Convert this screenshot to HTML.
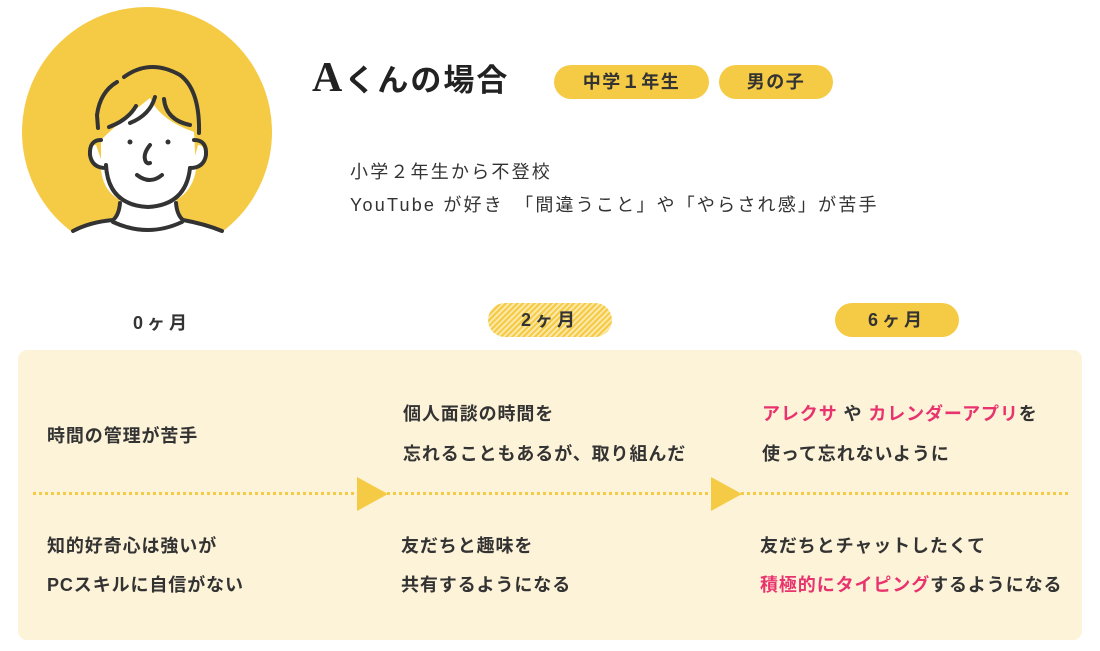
<!DOCTYPE html>
<html><head><meta charset="utf-8"><style>
*{margin:0;padding:0;box-sizing:border-box}
body{width:1100px;height:651px;background:#fff;position:relative;overflow:hidden;font-family:"Liberation Sans","Noto Sans CJK JP",sans-serif;color:#333}
.a{position:absolute;white-space:nowrap}
.pill{position:absolute;background:#f5cb45;border-radius:20px;text-align:center;font-weight:bold;font-size:18px;letter-spacing:1.5px;line-height:34px;color:#333}
.t{position:absolute;white-space:nowrap;font-size:18px;letter-spacing:0.9px;font-weight:bold;color:#333}
.p{color:#e8336f}
</style></head><body>
<svg class="a" style="left:0;top:0" width="300" height="260" viewBox="0 0 300 260">
<circle cx="147" cy="132" r="125" fill="#f5cb45"/>
<path d="M72 231 Q95 222 116 220 L120 198 L176 198 L180 220 Q205 224 225 231 L225 260 L72 260Z" fill="#fff"/>
<path d="M101 140 Q115 126 135 110 L150 98 Q160 120 194 132 L196 170 Q190 205 148 207 Q105 205 101 170Z" fill="#fff"/>
<path d="M96 145 Q90 145 91 156 Q93 168 104 168" fill="#fff"/>
<path d="M198 145 Q205 145 204 156 Q202 168 192 168" fill="#fff"/>
<g fill="none" stroke="#333" stroke-width="4" stroke-linecap="round">
<path d="M117 82 Q100 92 97 115 L98 128"/>
<path d="M124 77 Q150 58 180 75 Q200 90 199 133"/>
<path d="M109 127 Q128 120 136 106"/><path d="M130 123 Q150 115 155 97"/><path d="M164 99 Q166 120 190 125"/>
<path d="M101 140 Q89 140 90 155 Q92 168 106 168"/>
<path d="M194 140 Q207 140 206 155 Q204 168 190 168"/>
<path d="M106 165 Q108 205 148 207 Q186 205 190 168"/>
<path d="M150 145 Q142 155 146 162 Q148 164 150 163"/>
<path d="M137 175 Q150 185 162 175"/>
<path d="M120 203 Q119 215 113 220 Q90 222 73 231"/>
<path d="M176 203 Q177 215 183 220 Q205 224 222 231"/>
<path d="M113 222 Q148 238 182 222"/>
</g>
<circle cx="130" cy="142" r="2.5" fill="#333"/><circle cx="168" cy="142" r="2.5" fill="#333"/>
</svg>
<div class="a" style="left:312px;top:54px;font-size:31px;font-weight:bold;color:#222;letter-spacing:2px"><span style="font-family:'Liberation Serif',serif;font-size:42px">A</span>くんの場合</div>
<div class="pill" style="left:554px;top:65px;width:155px">中学１年生</div>
<div class="pill" style="left:719px;top:65px;width:114px">男の子</div>
<div class="a" style="left:350px;top:156px;font-size:18px;letter-spacing:2.2px;line-height:33px;color:#333">小学２年生から不登校<br>YouTube が好き　「間違うこと」や「やらされ感」が苦手</div>
<div class="a" style="left:133px;top:309px;font-size:18px;font-weight:bold;letter-spacing:4px">0ヶ月</div>
<div class="pill" style="left:488px;top:303px;width:124px;letter-spacing:4px;background:repeating-linear-gradient(135deg,#f5cb45 0 2px,#fbe7a6 2px 4px)">2ヶ月</div>
<div class="pill" style="left:835px;top:303px;width:124px;letter-spacing:4px">6ヶ月</div>
<div class="a" style="left:18px;top:350px;width:1064px;height:290px;background:#fdf3d8;border-radius:9px"></div>
<div class="a" style="left:33px;top:492px;width:1035px;border-top:3px dotted #f5cb45"></div>
<svg class="a" style="left:357px;top:477px" width="31" height="34"><path d="M0 0L31 17L0 34Z" fill="#f5cb45"/></svg>
<svg class="a" style="left:711px;top:477px" width="31" height="34"><path d="M0 0L31 17L0 34Z" fill="#f5cb45"/></svg>
<div class="t" style="left:47px;top:422px">時間の管理が苦手</div>
<div class="t" style="left:403px;top:400px">個人面談の時間を</div>
<div class="t" style="left:403px;top:440px">忘れることもあるが、取り組んだ</div>
<div class="t" style="left:762px;top:400px"><span class="p">アレクサ</span> や <span class="p">カレンダーアプリ</span>を</div>
<div class="t" style="left:762px;top:440px">使って忘れないように</div>
<div class="t" style="left:47px;top:532px">知的好奇心は強いが</div>
<div class="t" style="left:47px;top:571px">PCスキルに自信がない</div>
<div class="t" style="left:401px;top:532px">友だちと趣味を</div>
<div class="t" style="left:401px;top:571px">共有するようになる</div>
<div class="t" style="left:760px;top:532px">友だちとチャットしたくて</div>
<div class="t" style="left:760px;top:571px"><span class="p">積極的にタイピング</span>するようになる</div>
</body></html>
